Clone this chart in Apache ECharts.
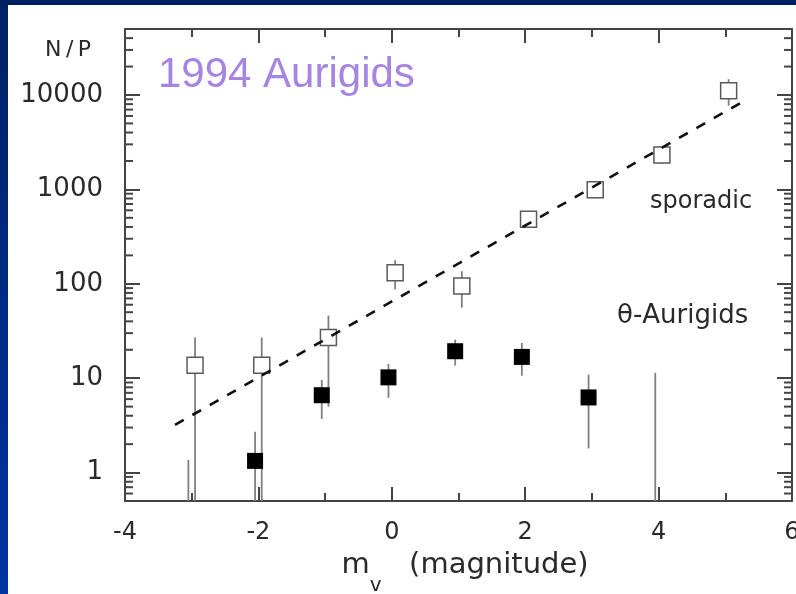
<!DOCTYPE html>
<html>
<head>
<meta charset="utf-8">
<script src="https://cdn.jsdelivr.net/npm/echarts@6/dist/echarts.min.js"></script>
<style>
  html, body { margin: 0; padding: 0; width: 796px; height: 594px; overflow: hidden;
    background: linear-gradient(to bottom, #002064, #0034a2); }
  #chart { position: absolute; left: 8px; top: 5px; width: 788px; height: 589px; background: #fff; }
</style>
</head>
<body>
<div id="chart"></div>
<script>
// Magnitude bins: sporadic points sit slightly right of each bin, shower points slightly left
const sporadicMag  = [-2.95, -1.95, -0.95, 0.05, 1.05, 2.05, 3.05, 4.05, 5.05];
const sporadicNP   = [13.7, 13.7, 27, 131, 95, 482, 990, 2320, 11100];
const sporadicHigh = [27, 27, 46, 178, 136, 560, 1100, 2750, 14700];
const sporadicLow  = [null, null, 5, 87, 56, 450, 900, 1870, 7700];

// θ-Aurigids (no marker where the count is zero, only the upper limit)
const auriMag  = [-3.05, -2.05, -1.05, -0.05, 0.95, 1.95, 2.95, 3.95];
const auriNP   = [null, 1.33, 6.6, 10.2, 19.3, 16.8, 6.25, null];
const auriHigh = [1.36, 2.7, 9.6, 14.2, 25.6, 23.6, 10.9, 11.4];
const auriLow  = [null, null, 3.7, 6.2, 13.6, 10.6, 1.8, null];

// Power-law fit to the sporadic background
const fitMag = [-3.25, 5.25];
const fitNP  = [3.2, 8400];

// Axis ranges
const xMin = -4, xMax = 6, xStep = 2;
const yMin = 0.5, yMax = 50000;

// Log minor ticks: 2..9 in every decade
const decades = [0.1, 1, 10, 100, 1000, 10000];
const mantissas = [2, 3, 4, 5, 6, 7, 8, 9];
const minorTickValues = [];
decades.forEach(d => mantissas.forEach(m => {
  const v = +(d * m).toPrecision(6);
  if (v > yMin && v < yMax) minorTickValues.push(v);
}));

const FONT = 'DejaVu Sans';
const INK = '#2a2a2a';
const AXIS = '#444';

const chart = echarts.init(document.getElementById('chart'), null, { renderer: 'canvas' });

function xAxisDef(pos, showLabels) {
  const a = {
    type: 'value', position: pos, min: xMin, max: xMax, interval: xStep,
    axisLine: { show: true, onZero: false, lineStyle: { color: AXIS, width: 2 } },
    axisTick: { show: true, inside: true, length: 14, lineStyle: { color: AXIS, width: 2 } },
    minorTick: { show: true, splitNumber: 2, length: 8, lineStyle: { color: AXIS, width: 2 } },
    splitLine: { show: false }, minorSplitLine: { show: false },
    axisLabel: { show: showLabels, fontFamily: FONT, fontSize: 24, color: INK, margin: 20 }
  };
  if (showLabels) {
    a.name = '{m|m}{v|v}{t|   (magnitude)}';
    a.nameLocation = 'middle';
    a.nameGap = 50;
    a.nameTextStyle = {
      fontFamily: FONT, fontSize: 29, color: INK,
      rich: {
        m: { fontFamily: FONT, fontSize: 29, color: INK, lineHeight: 29, verticalAlign: 'top', padding: [0, 0, 0, 13] },
        v: { fontFamily: FONT, fontSize: 20, color: INK, lineHeight: 69 },
        t: { fontFamily: FONT, fontSize: 29, color: INK, lineHeight: 29, verticalAlign: 'top' }
      }
    };
  }
  return a;
}

function yAxisDef(pos, showLabels) {
  return {
    type: 'log', logBase: 10, position: pos, min: yMin, max: yMax,
    axisLine: { show: true, onZero: false, lineStyle: { color: AXIS, width: 2 } },
    axisTick: { show: true, inside: true, length: 15, lineStyle: { color: AXIS, width: 2 } },
    minorTick: { show: false },
    splitLine: { show: false },
    axisLabel: {
      show: showLabels, fontFamily: FONT, fontSize: 26, color: INK, margin: 22,
      showMinLabel: false, showMaxLabel: false,
      formatter: v => (v >= 1 ? String(Math.round(v)) : String(v))
    }
  };
}

function errorBarRenderer(mags, lows, highs) {
  return function (params, api) {
    const i = params.dataIndex;
    const cs = params.coordSys;
    const top = api.coord([mags[i], highs[i]]);
    const bottomY = lows[i] == null ? cs.y + cs.height : api.coord([mags[i], lows[i]])[1];
    return {
      type: 'line',
      shape: { x1: top[0], y1: top[1], x2: top[0], y2: bottomY },
      style: { stroke: '#808080', lineWidth: 1.8 }
    };
  };
}

chart.setOption({
  animation: false,
  backgroundColor: '#ffffff',
  grid: { left: 117, right: 4, top: 24, bottom: 93, containLabel: false, outerBoundsMode: 'none' },
  xAxis: [xAxisDef('bottom', true), xAxisDef('top', false)],
  yAxis: [yAxisDef('left', true), yAxisDef('right', false)],
  graphic: [
    { type: 'text', x: 60, y: 45, style: { text: 'N\u2009/\u2009P', font: '22px "DejaVu Sans"', fill: INK, textAlign: 'center', textVerticalAlign: 'middle' } },
    { type: 'text', x: 150, y: 70, style: { text: '1994 Aurigids', font: '42px "Liberation Sans"', fill: '#a685e2', textAlign: 'left', textVerticalAlign: 'middle' } },
    { type: 'text', x: 642, y: 197, style: { text: 'sporadic', font: '24px "DejaVu Sans"', fill: INK, textAlign: 'left', textVerticalAlign: 'middle' } },
    { type: 'text', x: 609, y: 311, style: { text: 'θ-Aurigids', font: '26px "DejaVu Sans"', fill: INK, textAlign: 'left', textVerticalAlign: 'middle' } }
  ],
  series: [
    {
      name: 'minor ticks', type: 'custom', silent: true, z: 1,
      data: minorTickValues.map(v => [xMin, v]),
      encode: { x: 0, y: 1 },
      renderItem: function (params, api) {
        const cs = params.coordSys;
        const y = api.coord([xMin, api.value(1)])[1];
        const st = { stroke: AXIS, lineWidth: 2 };
        return {
          type: 'group',
          children: [
            { type: 'line', shape: { x1: cs.x, y1: y, x2: cs.x + 8, y2: y }, style: st },
            { type: 'line', shape: { x1: cs.x + cs.width - 8, y1: y, x2: cs.x + cs.width, y2: y }, style: st }
          ]
        };
      }
    },
    {
      name: 'sporadic errors', type: 'custom', silent: true, z: 2, clip: true,
      data: sporadicMag.map((m, i) => [m, sporadicHigh[i]]),
      encode: { x: 0, y: 1 },
      renderItem: errorBarRenderer(sporadicMag, sporadicLow, sporadicHigh)
    },
    {
      name: 'θ-Aurigids errors', type: 'custom', silent: true, z: 2, clip: true,
      data: auriMag.map((m, i) => [m, auriHigh[i]]),
      encode: { x: 0, y: 1 },
      renderItem: errorBarRenderer(auriMag, auriLow, auriHigh)
    },
    {
      name: 'sporadic', type: 'scatter', z: 3,
      symbol: 'rect', symbolSize: 16,
      itemStyle: { color: '#ffffff', borderColor: '#5a5a5a', borderWidth: 1.5, opacity: 1 },
      data: sporadicMag.map((m, i) => [m, sporadicNP[i]])
    },
    {
      name: 'θ-Aurigids', type: 'scatter', z: 3,
      symbol: 'rect', symbolSize: 16,
      itemStyle: { color: '#000000', opacity: 1 },
      data: auriMag.map((m, i) => [m, auriNP[i]]).filter(d => d[1] != null)
    },
    {
      name: 'fit', type: 'line', z: 4, symbol: 'none', silent: true,
      lineStyle: { color: '#111111', width: 2.6, type: [10, 10] },
      data: fitMag.map((m, i) => [m, fitNP[i]])
    }
  ]
});
</script>
</body>
</html>
